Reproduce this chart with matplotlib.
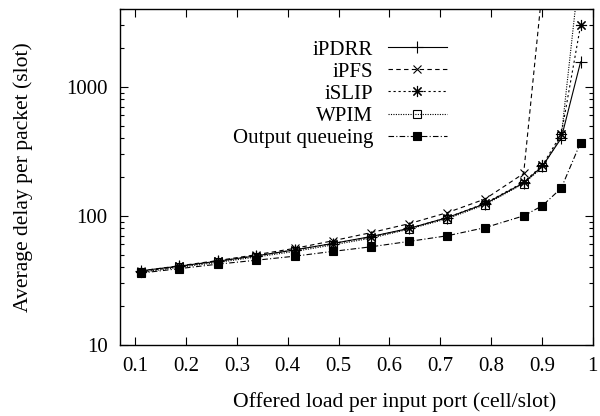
import numpy as np
import matplotlib.pyplot as plt
from matplotlib.ticker import FixedLocator, LogLocator, NullFormatter

plt.rcParams['font.family'] = ['Liberation Serif', 'DejaVu Serif']

# offered load (x) and average delay per packet (y)
load = [0.111, 0.187, 0.262, 0.338, 0.414, 0.488, 0.563, 0.639, 0.714,
        0.788, 0.864, 0.901, 0.938, 0.976]
ipdrr = [37.5, 40.8, 44.5, 49, 54.5, 61, 69, 80, 97, 124, 180, 243, 400, 1560]
ipfs = [37.5, 41, 45, 50, 56, 64, 74, 87, 106, 135, 213, 6000]
islip = [37, 40.5, 44.5, 49, 54.5, 61, 68.5, 80, 97, 125, 182, 247, 430, 3000]
wpim = [36.5, 40, 43.5, 48, 53, 59.5, 67, 79, 95, 122, 178, 238, 415, 9500]
oq = [36, 39, 42.2, 45.3, 48.7, 53, 57.5, 63.4, 70.1, 81, 100, 120, 164, 370]

xticks = [0.1, 0.2, 0.3, 0.4, 0.5, 0.6, 0.7, 0.8, 0.9, 1.0]
xticklabels = ['0.1', '0.2', '0.3', '0.4', '0.5', '0.6', '0.7', '0.8', '0.9', '1']

fig = plt.figure(figsize=(6, 4.16), dpi=100)
ax = fig.add_axes([0.2, 0.171, 0.788, 0.807])

lw = 0.8
ax.plot(load, ipdrr, color='black', lw=lw, ls='-', marker='+', ms=8,
        mew=0.8, label='iPDRR')
ax.plot(load[:len(ipfs)], ipfs, color='black', lw=lw, ls=(0, (4, 3)),
        marker='x', ms=6, mew=0.8, label='iPFS')
ax.plot(load, islip, color='black', lw=lw, ls=(0, (2, 2.5)),
        marker=(8, 2, 0), ms=8, mew=0.8, label='iSLIP')
ax.plot(load, wpim, color='black', lw=lw, ls=(0, (1, 1.2)), marker='s',
        ms=6, mew=0.8, mfc='none', label='WPIM')
ax.plot(load, oq, color='black', lw=lw, ls=(0, (5, 2, 1, 2)), marker='s',
        ms=6, mew=0.8, label='Output queueing')

ax.set_yscale('log')
ax.set_xlim(0.07, 1.0)
ax.set_ylim(10, 4000)
ax.xaxis.set_major_locator(FixedLocator(xticks))
ax.set_xticklabels(xticklabels)
ax.yaxis.set_major_locator(LogLocator(base=10))
ax.yaxis.set_minor_locator(LogLocator(base=10, subs=np.arange(2, 10)))
ax.yaxis.set_minor_formatter(NullFormatter())
ax.set_yticks([10, 100, 1000])
ax.set_yticklabels(['10', '100', '1000'])

ax.tick_params(which='both', direction='in', top=True, right=True,
               labelsize=15, width=0.8)
ax.tick_params(which='major', length=6, pad=9)
ax.tick_params(which='minor', length=3)
for s in ax.spines.values():
    s.set_linewidth(1.0)

ax.set_xlabel('Offered load per input port (cell/slot)', fontsize=15.7)
ax.xaxis.set_label_coords(0.58, -0.142)
ax.set_ylabel('Average delay per packet (slot)', fontsize=15.6, labelpad=24)

leg = ax.legend(loc='upper right', bbox_to_anchor=(0.692, 0.908),
                frameon=False, markerfirst=False, fontsize=15,
                handlelength=2.85, handletextpad=0.7, labelspacing=0.12,
                borderaxespad=0, borderpad=0)

fig.savefig('out.png', dpi=100)
